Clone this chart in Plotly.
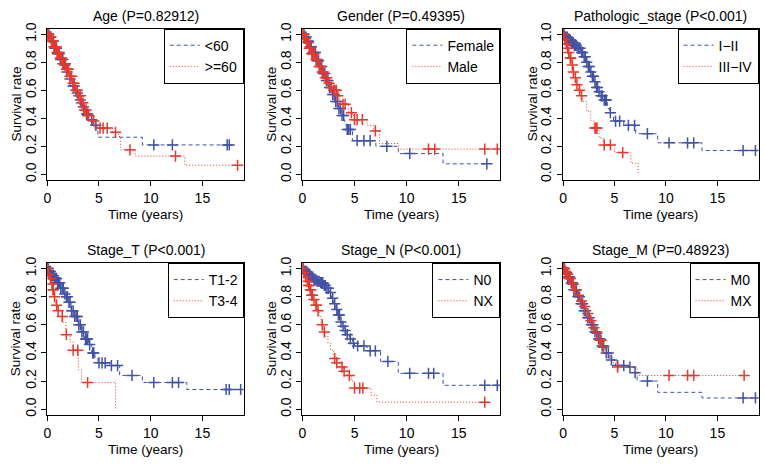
import numpy as np
import plotly.graph_objects as go

BLUE = "#4252a6"
RED = "#e8382b"
FONT = "Liberation Sans, Arial, sans-serif"

# ---- Age ----
AGE_LT60_T = [0, 0.2, 0.4, 0.7, 1.0, 1.3, 1.6, 1.9, 2.2, 2.5, 2.8, 3.1, 3.4, 3.7, 4.0, 4.4, 4.8, 4.9, 9.2]
AGE_LT60_S = [1, 0.98, 0.95, 0.90, 0.86, 0.82, 0.78, 0.73, 0.68, 0.63, 0.58, 0.53, 0.48, 0.43, 0.39, 0.35, 0.31, 0.265, 0.21]
AGE_LT60_C = [0.05, 0.15, 0.25, 0.35, 0.45, 0.6, 0.75, 0.9, 1.0, 1.15, 1.3, 1.5, 1.7, 1.9, 2.2, 2.5, 2.6,
              2.9, 3.2, 3.5, 3.8, 3.9, 4.3, 4.7, 10.3, 12.1, 17.4, 17.6]
AGE_GE60_T = [0, 0.15, 0.35, 0.6, 0.9, 1.2, 1.5, 1.8, 2.1, 2.4, 2.7, 3.0, 3.3, 3.6, 3.9, 4.3, 4.7, 6.3, 6.9, 7.1, 8.5, 13.3]
AGE_GE60_S = [1, 0.98, 0.95, 0.91, 0.87, 0.83, 0.79, 0.75, 0.70, 0.65, 0.60, 0.56, 0.51, 0.46, 0.42, 0.38, 0.33, 0.30, 0.27, 0.175, 0.13, 0.065]
AGE_GE60_C = [0.05, 0.1, 0.2, 0.25, 0.3, 0.4, 0.5, 0.55, 0.65, 0.7, 0.8, 0.85, 0.95, 1.05, 1.15, 1.25, 1.4, 1.5,
              1.6, 1.75, 1.85, 1.95, 2.05, 2.2, 2.35, 2.5, 2.6, 2.75, 2.9, 3.05, 3.2, 3.3, 3.45, 3.6, 3.75, 3.9,
              4.0, 4.5, 5.1, 5.4, 5.8, 6.6, 8.0, 12.4, 18.4]

# ---- Gender ----
FEMALE_T = [0, 0.2, 0.4, 0.7, 1.0, 1.3, 1.6, 1.9, 2.2, 2.5, 2.8, 3.1, 3.4, 3.7, 4.0, 4.2, 4.8, 7.05, 9.2, 13.5]
FEMALE_S = [1, 0.98, 0.95, 0.91, 0.87, 0.81, 0.77, 0.72, 0.67, 0.62, 0.57, 0.52, 0.47, 0.42, 0.38, 0.32, 0.24, 0.20, 0.148, 0.075]
FEMALE_C = [0.05, 0.15, 0.25, 0.35, 0.5, 0.6, 0.75, 0.85, 1.0, 1.1, 1.25, 1.4, 1.55, 1.7, 1.85, 2.0, 2.15, 2.3,
            2.45, 2.6, 2.75, 2.9, 3.05, 3.2, 3.35, 3.5, 3.65, 3.8, 3.95, 4.3, 4.45, 4.6, 5.25, 5.9, 6.5, 8.1,
            10.3, 17.7]
MALE_T = [0, 0.2, 0.4, 0.6, 0.9, 1.2, 1.5, 1.8, 2.1, 2.4, 2.7, 3.0, 3.3, 3.6, 4.4, 4.8, 5.0, 6.2, 6.8, 7.4, 9.2]
MALE_S = [1, 0.97, 0.94, 0.90, 0.86, 0.82, 0.77, 0.73, 0.69, 0.65, 0.62, 0.60, 0.56, 0.50, 0.44, 0.42, 0.39, 0.35, 0.31, 0.22, 0.18]
MALE_C = [0.05, 0.1, 0.2, 0.3, 0.4, 0.55, 0.65, 0.75, 0.9, 1.0, 1.1, 1.3, 1.45, 1.6, 1.75, 1.9, 2.0, 2.2, 2.35,
          2.55, 2.8, 3.0, 3.1, 3.25, 3.4, 3.9, 4.1, 4.7, 5.0, 5.25, 5.75, 7.0, 12.1, 12.7, 17.5, 18.7]

# ---- Pathologic stage ----
STAGE12_T = [0, 0.2, 0.5, 0.8, 1.1, 1.4, 1.7, 2.0, 2.2, 2.4, 2.6, 2.8, 3.0, 3.2, 3.4, 3.6, 3.9, 4.3, 4.5, 4.9, 5.9, 7.06, 9.2, 13.5]
STAGE12_S = [1, 0.98, 0.96, 0.94, 0.92, 0.90, 0.87, 0.84, 0.80, 0.77, 0.73, 0.70, 0.66, 0.62, 0.59, 0.56, 0.53, 0.47, 0.44, 0.38, 0.35, 0.29, 0.225, 0.17]
STAGE12_C = [0.05, 0.1, 0.2, 0.3, 0.4, 0.5, 0.6, 0.7, 0.8, 0.9, 1.0, 1.1, 1.2, 1.3, 1.45, 1.55, 1.65, 1.8, 1.9,
             2.05, 2.15, 2.3, 2.45, 2.55, 2.7, 2.85, 2.95, 3.1, 3.25, 3.35, 3.5, 3.7, 3.8, 4.0, 4.1, 4.2, 4.6,
             5.1, 5.5, 6.35, 6.95, 8.2, 10.3, 12.1, 12.7, 17.5, 18.7]
STAGE34_T = [0, 0.1, 0.25, 0.4, 0.5, 0.65, 0.8, 0.95, 1.1, 1.3, 1.5, 1.7, 1.9, 2.3, 2.7, 3.0, 3.5, 3.9, 5.0, 6.6, 7.3]
STAGE34_S = [1, 0.96, 0.93, 0.90, 0.87, 0.83, 0.78, 0.73, 0.69, 0.64, 0.60, 0.56, 0.52, 0.45, 0.38, 0.33, 0.26, 0.21, 0.155, 0.08, 0.0]
STAGE34_C = [0.05, 0.15, 0.3, 0.45, 0.55, 0.7, 0.75, 0.9, 1.0, 1.2, 1.35, 1.6, 1.8, 3.1, 3.2, 3.3, 4.0, 4.6, 5.8]

# ---- Stage T ----
T12_T = [0, 0.2, 0.4, 0.7, 1.0, 1.3, 1.6, 1.8, 2.0, 2.3, 2.6, 3.0, 3.3, 3.6, 4.0, 4.3, 4.6, 4.9, 6.0, 7.0, 9.2, 13.5]
T12_S = [1, 0.98, 0.95, 0.93, 0.90, 0.86, 0.82, 0.80, 0.76, 0.70, 0.66, 0.60, 0.55, 0.50, 0.46, 0.40, 0.37, 0.33, 0.31, 0.24, 0.19, 0.14]
T12_C = [0.05, 0.1, 0.2, 0.3, 0.4, 0.5, 0.6, 0.7, 0.8, 0.9, 1.0, 1.1, 1.2, 1.3, 1.45, 1.55, 1.7, 1.85, 1.95,
         2.1, 2.2, 2.35, 2.5, 2.65, 2.8, 2.9, 3.05, 3.2, 3.35, 3.5, 3.7, 3.8, 3.9, 4.1, 4.4, 4.5, 5.0, 5.3,
         5.6, 6.2, 6.8, 8.2, 10.3, 12.1, 12.7, 17.3, 17.6, 18.7]
T34_T = [0, 0.1, 0.2, 0.35, 0.5, 0.65, 0.8, 1.0, 1.1, 1.5, 1.8, 2.2, 2.5, 3.0, 3.3, 6.6]
T34_S = [1, 0.96, 0.93, 0.89, 0.85, 0.80, 0.74, 0.70, 0.66, 0.62, 0.53, 0.48, 0.42, 0.28, 0.19, 0.0]
T34_C = [0.05, 0.15, 0.3, 0.45, 0.55, 0.6, 0.7, 0.9, 1.05, 1.45, 1.85, 2.5, 2.95, 3.9]

# ---- Stage N ----
N0_T = [0, 0.2, 0.5, 0.8, 1.1, 1.4, 1.7, 2.0, 2.3, 2.6, 2.8, 3.0, 3.2, 3.4, 3.6, 3.8, 4.0, 4.2, 4.5, 4.8, 5.0, 6.2, 7.5, 9.2, 13.5]
N0_S = [1, 0.98, 0.96, 0.94, 0.92, 0.91, 0.90, 0.88, 0.86, 0.83, 0.79, 0.75, 0.71, 0.67, 0.62, 0.59, 0.56, 0.53, 0.50, 0.47, 0.45, 0.415, 0.34, 0.255, 0.17]
N0_C = [0.05, 0.1, 0.2, 0.3, 0.4, 0.5, 0.6, 0.7, 0.8, 0.9, 1.0, 1.1, 1.2, 1.3, 1.4, 1.5, 1.6, 1.75, 1.85, 1.95,
        2.1, 2.2, 2.35, 2.5, 2.7, 2.9, 3.1, 3.3, 3.45, 3.55, 3.7, 3.9, 4.1, 4.3, 4.6, 4.9, 5.3, 5.9, 6.5, 7.0,
        8.2, 10.3, 12.1, 12.6, 17.5, 18.7]
NX_T = [0, 0.1, 0.25, 0.4, 0.55, 0.7, 0.85, 1.0, 1.2, 1.4, 1.6, 1.8, 2.0, 2.2, 2.45, 2.7, 3.0, 3.3, 3.6, 4.0, 4.3, 4.7, 5.0, 6.6, 7.15]
NX_S = [1, 0.97, 0.94, 0.91, 0.88, 0.85, 0.81, 0.78, 0.74, 0.70, 0.66, 0.60, 0.55, 0.52, 0.47, 0.42, 0.36, 0.33, 0.30, 0.27, 0.24, 0.20, 0.15, 0.10, 0.05]
NX_C = [0.05, 0.15, 0.3, 0.45, 0.6, 0.65, 0.75, 0.8, 0.9, 0.95, 1.1, 1.3, 1.35, 1.5, 1.9, 2.1, 3.1, 3.3, 3.8,
        4.0, 4.5, 5.0, 5.5, 5.8, 17.5]

# ---- Stage M ----
M0_T = [0, 0.2, 0.4, 0.7, 1.0, 1.35, 1.7, 2.0, 2.3, 2.65, 3.0, 3.4, 3.7, 4.1, 4.55, 5.1, 6.3, 7.0, 7.2, 9.2, 13.5]
M0_S = [1, 0.97, 0.94, 0.90, 0.85, 0.80, 0.75, 0.70, 0.65, 0.60, 0.55, 0.50, 0.45, 0.40, 0.35, 0.31, 0.30, 0.26, 0.20, 0.12, 0.08]
M0_C = [0.05, 0.15, 0.25, 0.35, 0.45, 0.55, 0.65, 0.8, 0.9, 1.05, 1.2, 1.3, 1.45, 1.6, 1.75, 1.9, 2.05, 2.2,
        2.4, 2.55, 2.75, 2.9, 3.1, 3.25, 3.45, 3.6, 3.8, 3.95, 4.2, 4.4, 4.7, 5.3, 5.9, 6.5, 7.0, 8.2, 17.5, 18.7]
MX_T = [0, 0.15, 0.3, 0.5, 0.8, 1.1, 1.4, 1.7, 2.0, 2.3, 2.6, 2.9, 3.2, 3.5, 3.8, 4.2, 4.8, 5.2, 7.2]
MX_S = [1, 0.98, 0.96, 0.93, 0.89, 0.85, 0.81, 0.77, 0.73, 0.68, 0.63, 0.58, 0.54, 0.49, 0.44, 0.38, 0.33, 0.30, 0.24]
MX_C = [0.05, 0.1, 0.2, 0.25, 0.35, 0.4, 0.45, 0.6, 0.7, 0.9, 1.0, 1.2, 1.5, 1.8, 2.1, 2.4, 2.7, 3.0, 3.3,
        3.6, 3.7, 3.9, 5.3, 10.3, 12.1, 12.7, 17.6]

PANELS = [
    ("Age (P=0.82912)", [("<60", AGE_LT60_T, AGE_LT60_S, AGE_LT60_C), (">=60", AGE_GE60_T, AGE_GE60_S, AGE_GE60_C)]),
    ("Gender (P=0.49395)", [("Female", FEMALE_T, FEMALE_S, FEMALE_C), ("Male", MALE_T, MALE_S, MALE_C)]),
    ("Pathologic_stage (P<0.001)", [("I\u2212II", STAGE12_T, STAGE12_S, STAGE12_C),
                                    ("III\u2212IV", STAGE34_T, STAGE34_S, STAGE34_C)]),
    ("Stage_T (P<0.001)", [("T1-2", T12_T, T12_S, T12_C), ("T3-4", T34_T, T34_S, T34_C)]),
    ("Stage_N (P<0.001)", [("N0", N0_T, N0_S, N0_C), ("NX", NX_T, NX_S, NX_C)]),
    ("Stage_M (P=0.48923)", [("M0", M0_T, M0_S, M0_C), ("MX", MX_T, MX_S, MX_C)]),
]

W, H = 765, 464
COLS = [(43.5, 241), (300, 499), (562, 758.5)]
ROWS = [(23, 177), (261.5, 416)]


def surv_at(t_steps, s_steps, times):
    idx = np.searchsorted(np.asarray(t_steps), np.asarray(times), side="right") - 1
    return np.asarray(s_steps)[idx]


fig = go.Figure()
annotations = []
styles = [(BLUE, "4px,3px"), (RED, "1px,2px")]

for i, (title, groups) in enumerate(PANELS):
    r, c = divmod(i, 3)
    x0, x1 = COLS[c]
    y0, y1 = ROWS[r]
    sfx = "" if i == 0 else str(i + 1)
    xa, ya = "x" + sfx, "y" + sfx
    leg = "legend" + sfx

    for (name, t, s, cens), (color, dash) in zip(groups, styles):
        tx, sy = list(t), list(s)
        if sy[-1] > 0 and max(cens) > tx[-1]:
            tx.append(max(cens))
            sy.append(sy[-1])
        fig.add_trace(go.Scatter(
            x=tx, y=sy, mode="lines", name=name, line=dict(color=color, width=1, dash=dash, shape="hv"),
            xaxis=xa, yaxis=ya, legend=leg,
        ))
        fig.add_trace(go.Scatter(
            x=cens, y=surv_at(t, s, cens), mode="markers", showlegend=False,
            marker=dict(symbol="cross-thin", size=8, line=dict(color=color, width=1.5)),
            xaxis=xa, yaxis=ya,
        ))

    dx = [x0 / W, x1 / W]
    dy = [1 - y1 / H, 1 - y0 / H]
    axis_common = dict(showline=True, mirror=True, linecolor="black", linewidth=1, ticks="outside",
                       ticklen=5, tickcolor="black", showgrid=False, zeroline=False,
                       tickfont=dict(family=FONT, size=14, color="black"))
    fig.update_layout({
        "xaxis" + sfx: dict(domain=dx, range=[0, 19], tickvals=[0, 5, 10, 15], anchor=ya, **axis_common),
        "yaxis" + sfx: dict(domain=dy, range=[-0.04, 1.04], tickvals=[0, 0.2, 0.4, 0.6, 0.8, 1.0],
                            ticktext=["0.0", "0.2", "0.4", "0.6", "0.8", "1.0"], tickangle=-90,
                            anchor=xa, **axis_common),
        leg: dict(x=dx[1], y=dy[1], xanchor="right", yanchor="top", bgcolor="white",
                  bordercolor="black", borderwidth=1, itemwidth=30, tracegroupgap=0,
                  font=dict(family=FONT, size=14, color="black")),
    })

    annotations.append(dict(text=title, x=(dx[0] + dx[1]) / 2, y=dy[1], xref="paper", yref="paper",
                            xanchor="center", yanchor="bottom", yshift=3, showarrow=False,
                            font=dict(family=FONT, size=14, color="black")))
    annotations.append(dict(text="Time (years)", x=(dx[0] + dx[1]) / 2, y=dy[0], xref="paper", yref="paper",
                            xanchor="center", yanchor="middle", yshift=-35, showarrow=False,
                            font=dict(family=FONT, size=13.5, color="black")))
    annotations.append(dict(text="Survival rate", x=dx[0], y=(dy[0] + dy[1]) / 2, xref="paper", yref="paper",
                            xanchor="center", yanchor="middle", xshift=-31, textangle=-90, showarrow=False,
                            font=dict(family=FONT, size=13.5, color="black")))

fig.update_layout(
    width=W, height=H, margin=dict(l=0, r=0, t=0, b=0),
    paper_bgcolor="white", plot_bgcolor="white",
    annotations=annotations,
)

# drop the page's default body margin so the figure sits at the window's corner
fig.write_html("out.html", config={"displayModeBar": False},
               post_script="document.body.style.margin='0';")
